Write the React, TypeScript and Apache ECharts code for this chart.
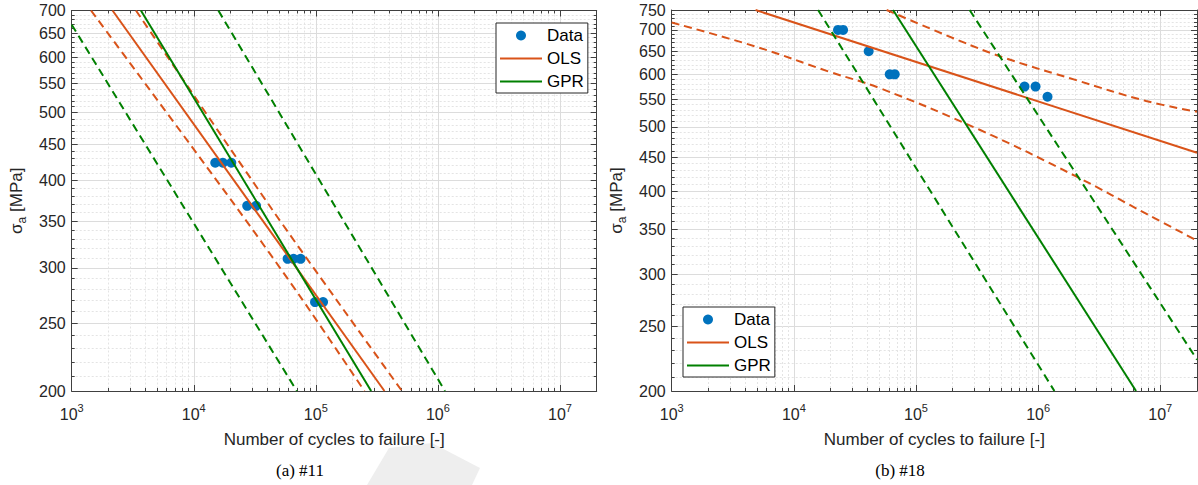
import React, { useEffect, useRef } from 'react';
import * as echarts from 'echarts';

// ---------- axis ticks ----------
const X_MIN = 1e3;
const X_MAX = 2e7;
const X_MAJOR = [1e3, 1e4, 1e5, 1e6, 1e7];
const Y_TICKS_A = [200, 250, 300, 350, 400, 450, 500, 550, 600, 650, 700];
const Y_TICKS_B = [200, 250, 300, 350, 400, 450, 500, 550, 600, 650, 700, 750];

// ---------- (a) #11 ----------
const A_DATA_N = [15000, 17300, 20300, 27400, 32400, 58700, 65700, 75000, 98500, 114600];
const A_DATA_S = [424, 424, 424, 368, 368, 309, 309, 309, 268, 268];
const A_OLS_N = [2160, 365000];
const A_OLS_S = [700, 200];
const A_OLS_LO_N = [1440, 21900, 77800, 250000];
const A_OLS_HI_N = [3360, 41800, 147600, 508000];
const A_OLS_BAND_S = [700, 368, 270, 200];
const A_GPR_N = [3690, 284000];
const A_GPR_S = [700, 200];
const A_GPR_LO_N = [1000, 69900];
const A_GPR_LO_S = [668, 200];
const A_GPR_HI_N = [15900, 1143000];
const A_GPR_HI_S = [700, 200];

// ---------- (b) #18 ----------
const B_DATA_N = [23000, 25300, 41000, 61000, 67000, 774000, 953000, 1194000];
const B_DATA_S = [700, 700, 650, 600, 600, 575, 575, 555];
const B_OLS_N = [4860, 20000000];
const B_OLS_S = [750, 457];
const B_OLS_LO_N = [1000, 4955, 19680, 50500, 332000, 2050000, 7660000, 20000000];
const B_OLS_LO_S = [718, 660, 605, 572, 495, 421, 370, 337];
const B_OLS_HI_N = [57500, 219000, 548000, 2050000, 7660000, 20000000];
const B_OLS_HI_S = [750, 676, 634, 588, 547, 527];
const B_GPR_N = [64900, 6340000];
const B_GPR_S = [750, 200];
const B_GPR_LO_N = [15800, 1360000];
const B_GPR_LO_S = [750, 200];
const B_GPR_HI_N = [275000, 20000000];
const B_GPR_HI_S = [750, 223];

const LEGEND_NAMES = ['Data', 'OLS', 'GPR'];
const CAPTIONS = ['(a) #11', '(b) #18'];
const X_NAME = 'Number of cycles to failure [-]';

const FONT = '"Liberation Sans", Arial, Helvetica, sans-serif';
const SERIF = '"Liberation Serif", "Times New Roman", Times, serif';
const AXIS_COLOR = '#404040';
const TEXT_COLOR = '#262626';
const BLUE = '#0072BD';
const ORANGE = '#D95319';
const GREEN = '#008000';
const MAJOR_GRID = '#dcdcdc';
const MINOR_GRID = '#e4e4e4';
const LINE_ICON = 'path://M0,0 L42,0 L42,2 L0,2 Z';

function xMinorValues(): number[] {
  const out: number[] = [];
  for (let k = 3; k <= 6; k++) {
    for (let m = 2; m <= 9; m++) out.push(m * Math.pow(10, k));
  }
  return out;
}

function yMinorValues(lo: number, hi: number): number[] {
  const out: number[] = [];
  for (let v = lo + 10; v < hi; v += 10) {
    if (v % 50 !== 0) out.push(v);
  }
  return out;
}

function makeXAxes(g: number) {
  const common = { type: 'log', logBase: 10, min: X_MIN, max: X_MAX, gridIndex: g };
  const minor = xMinorValues();
  const tickStyle = { color: AXIS_COLOR, width: 1 };
  return [
    {
      ...common,
      position: 'bottom',
      name: X_NAME,
      nameLocation: 'middle',
      nameGap: 34,
      nameTextStyle: { fontSize: 17, fontFamily: FONT, color: TEXT_COLOR },
      axisLine: { show: true, onZero: false, lineStyle: { color: AXIS_COLOR, width: 1 } },
      axisTick: { show: true, inside: true, length: 6, customValues: X_MAJOR, lineStyle: tickStyle },
      axisLabel: {
        customValues: X_MAJOR,
        formatter: (v: number) => '10{sup|' + Math.round(Math.log10(v)) + '}',
        fontSize: 16,
        fontFamily: FONT,
        color: TEXT_COLOR,
        lineHeight: 24,
        margin: 11,
        rich: {
          sup: { fontSize: 11, lineHeight: 11, verticalAlign: 'top', fontFamily: FONT, color: TEXT_COLOR },
        },
      },
      splitLine: { show: true, lineStyle: { color: MAJOR_GRID, width: 1 } },
    },
    {
      ...common,
      position: 'bottom',
      axisLine: { show: false, onZero: false },
      axisTick: { show: true, inside: true, length: 3, customValues: minor, lineStyle: tickStyle },
      axisLabel: { show: false },
      splitLine: { show: true, lineStyle: { color: MINOR_GRID, width: 1, type: [2, 2] } },
    },
    {
      ...common,
      position: 'top',
      axisLine: { show: true, onZero: false, lineStyle: { color: AXIS_COLOR, width: 1 } },
      axisTick: { show: true, inside: true, length: 6, customValues: X_MAJOR, lineStyle: tickStyle },
      axisLabel: { show: false },
      splitLine: { show: false },
    },
    {
      ...common,
      position: 'top',
      axisLine: { show: false, onZero: false },
      axisTick: { show: true, inside: true, length: 3, customValues: minor, lineStyle: tickStyle },
      axisLabel: { show: false },
      splitLine: { show: false },
    },
  ];
}

function makeYAxes(g: number, ticks: number[]) {
  const lo = ticks[0];
  const hi = ticks[ticks.length - 1];
  const common = { type: 'log', logBase: 10, min: lo, max: hi, gridIndex: g };
  const minor = yMinorValues(lo, hi);
  const tickStyle = { color: AXIS_COLOR, width: 1 };
  return [
    {
      ...common,
      position: 'left',
      name: '{s|σ}{sub|a}{s| [MPa]}',
      nameLocation: 'middle',
      nameGap: 44,
      nameTextStyle: {
        fontSize: 17,
        fontFamily: FONT,
        color: TEXT_COLOR,
        lineHeight: 22,
        rich: {
          s: { fontSize: 17, lineHeight: 22, fontFamily: FONT, color: TEXT_COLOR },
          sub: { fontSize: 12, lineHeight: 12, verticalAlign: 'bottom', fontFamily: FONT, color: TEXT_COLOR },
        },
      },
      axisLine: { show: true, onZero: false, lineStyle: { color: AXIS_COLOR, width: 1 } },
      axisTick: { show: true, inside: true, length: 6, customValues: ticks, lineStyle: tickStyle },
      axisLabel: {
        customValues: ticks,
        formatter: (v: number) => String(Math.round(v)),
        fontSize: 16,
        fontFamily: FONT,
        color: TEXT_COLOR,
        margin: 6,
      },
      splitLine: { show: true, lineStyle: { color: MAJOR_GRID, width: 1 } },
    },
    {
      ...common,
      position: 'left',
      axisLine: { show: false, onZero: false },
      axisTick: { show: true, inside: true, length: 3, customValues: minor, lineStyle: tickStyle },
      axisLabel: { show: false },
      splitLine: { show: true, lineStyle: { color: MINOR_GRID, width: 1, type: [2, 2] } },
    },
    {
      ...common,
      position: 'right',
      axisLine: { show: true, onZero: false, lineStyle: { color: AXIS_COLOR, width: 1 } },
      axisTick: { show: true, inside: true, length: 6, customValues: ticks, lineStyle: tickStyle },
      axisLabel: { show: false },
      splitLine: { show: false },
    },
    {
      ...common,
      position: 'right',
      axisLine: { show: false, onZero: false },
      axisTick: { show: true, inside: true, length: 3, customValues: minor, lineStyle: tickStyle },
      axisLabel: { show: false },
      splitLine: { show: false },
    },
  ];
}

function pairs(ns: number[], ss: number[]) {
  return ns.map((n, i) => [n, ss[i]]);
}

function lineSeries(
  name: string,
  ns: number[],
  ss: number[],
  color: string,
  dashed: boolean,
  axis: number,
  smooth: number | boolean = false
) {
  return {
    type: 'line',
    name,
    xAxisIndex: axis,
    yAxisIndex: axis,
    data: pairs(ns, ss),
    symbol: 'none',
    showSymbol: false,
    silent: true,
    z: 3,
    clip: true,
    smooth,
    itemStyle: { color },
    lineStyle: { color, width: 2, type: dashed ? [8, 5] : 'solid' },
  };
}

function scatterSeries(ns: number[], ss: number[], axis: number) {
  return {
    type: 'scatter',
    name: 'Data',
    xAxisIndex: axis,
    yAxisIndex: axis,
    data: pairs(ns, ss),
    symbol: 'circle',
    symbolSize: 10,
    silent: true,
    z: 2,
    itemStyle: { color: BLUE, opacity: 1 },
  };
}

function makeLegend(left: number, top: number) {
  return {
    data: [
      { name: LEGEND_NAMES[0], icon: 'circle' },
      { name: LEGEND_NAMES[1], icon: LINE_ICON, itemStyle: { color: ORANGE } },
      { name: LEGEND_NAMES[2], icon: LINE_ICON, itemStyle: { color: GREEN } },
    ],
    left,
    top,
    orient: 'vertical',
    itemWidth: 42,
    itemHeight: 10,
    itemGap: 6,
    symbolKeepAspect: true,
    padding: [4, 4, 3, 4],
    borderColor: '#262626',
    borderWidth: 1,
    borderRadius: 0,
    backgroundColor: '#ffffff',
    selectedMode: false,
    textStyle: { fontSize: 17, lineHeight: 17, fontFamily: FONT, color: '#000000', padding: [0, 0, 0, 0] },
  };
}

export default function App() {
  const ref = useRef<HTMLDivElement>(null);

  useEffect(() => {
    if (!ref.current) return;
    const chart = echarts.init(ref.current, null, { renderer: 'svg' });
    const option: any = {
      animation: false,
      backgroundColor: '#ffffff',
      grid: [
        { left: 71.7, top: 10.5, width: 525, height: 380.5, containLabel: false },
        { left: 671.7, top: 10, width: 525.3, height: 381, containLabel: false },
      ],
      xAxis: [...makeXAxes(0), ...makeXAxes(1)],
      yAxis: [...makeYAxes(0, Y_TICKS_A), ...makeYAxes(1, Y_TICKS_B)],
      legend: [makeLegend(496, 23), makeLegend(683, 307)],
      series: [
        // (a)
        scatterSeries(A_DATA_N, A_DATA_S, 0),
        lineSeries('OLS', A_OLS_N, A_OLS_S, ORANGE, false, 0),
        lineSeries('OLS lower', A_OLS_LO_N, A_OLS_BAND_S, ORANGE, true, 0, 0.3),
        lineSeries('OLS upper', A_OLS_HI_N, A_OLS_BAND_S, ORANGE, true, 0, 0.3),
        lineSeries('GPR', A_GPR_N, A_GPR_S, GREEN, false, 0),
        lineSeries('GPR lower', A_GPR_LO_N, A_GPR_LO_S, GREEN, true, 0),
        lineSeries('GPR upper', A_GPR_HI_N, A_GPR_HI_S, GREEN, true, 0),
        // (b)
        scatterSeries(B_DATA_N, B_DATA_S, 4),
        lineSeries('OLS', B_OLS_N, B_OLS_S, ORANGE, false, 4),
        lineSeries('OLS lower', B_OLS_LO_N, B_OLS_LO_S, ORANGE, true, 4, 0.4),
        lineSeries('OLS upper', B_OLS_HI_N, B_OLS_HI_S, ORANGE, true, 4, 0.4),
        lineSeries('GPR', B_GPR_N, B_GPR_S, GREEN, false, 4),
        lineSeries('GPR lower', B_GPR_LO_N, B_GPR_LO_S, GREEN, true, 4),
        lineSeries('GPR upper', B_GPR_HI_N, B_GPR_HI_S, GREEN, true, 4),
      ],
      graphic: [
        {
          type: 'polygon',
          z: -10,
          silent: true,
          shape: { points: [[367, 485], [389, 448], [432, 443], [480, 468], [472, 485]] },
          style: { fill: '#eeeeee' },
        },
        {
          type: 'text',
          x: 300,
          y: 470,
          silent: true,
          style: { text: CAPTIONS[0], font: '17px ' + SERIF, fill: '#000000', textAlign: 'center', textVerticalAlign: 'middle' },
        },
        {
          type: 'text',
          x: 900,
          y: 470,
          silent: true,
          style: { text: CAPTIONS[1], font: '17px ' + SERIF, fill: '#000000', textAlign: 'center', textVerticalAlign: 'middle' },
        },
      ],
    };
    chart.setOption(option);
    return () => chart.dispose();
  }, []);

  return (
    <div
      ref={ref}
      style={{ position: 'fixed', left: 0, top: 0, width: 1198, height: 485, background: '#ffffff' }}
    />
  );
}
